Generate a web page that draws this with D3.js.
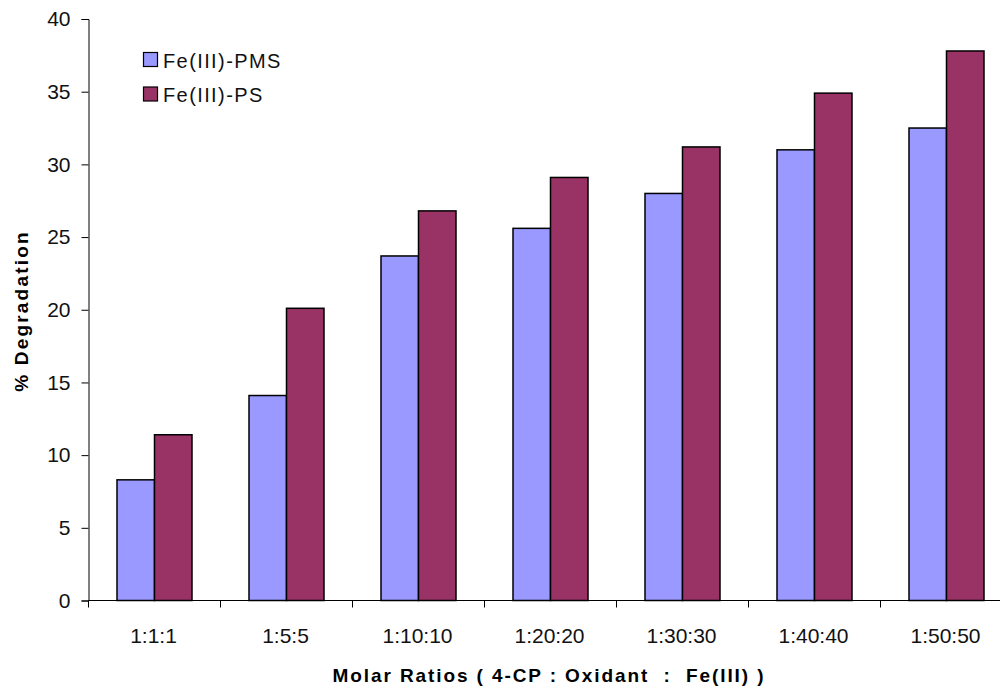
<!DOCTYPE html>
<html>
<head>
<meta charset="utf-8">
<script src="https://cdn.jsdelivr.net/npm/d3@7"></script>
<style>
  body { margin: 0; background: #fff; }
  svg { display: block; font-family: "Liberation Sans", Arial, sans-serif; }
</style>
</head>
<body>
<svg></svg>
<script>
const categories = ["1:1:1", "1:5:5", "1:10:10", "1:20:20", "1:30:30", "1:40:40", "1:50:50"];
const seriesNames = ["Fe(III)-PMS", "Fe(III)-PS"];
const pmsValues = [8.3, 14.1, 23.7, 25.6, 28.0, 31.0, 32.5];
const psValues = [11.4, 20.1, 26.8, 29.1, 31.2, 34.9, 37.8];
const yTicks = [0, 5, 10, 15, 20, 25, 30, 35, 40];

const colours = ["#9999ff", "#993366"];

const svg = d3.select("svg")
  .attr("width", 1000)
  .attr("height", 688);

// plot area runs past the right edge, the original is cropped there
const plotLeft = 88.5, plotTop = 19, plotBottom = 600.5, bandW = 132;

const x0 = d3.scaleBand()
  .domain(categories)
  .range([plotLeft, plotLeft + bandW * categories.length]);

const x1 = d3.scaleBand()
  .domain(seriesNames)
  .range([28.5, 103.5]);

const y = d3.scaleLinear()
  .domain([0, 40])
  .range([plotBottom, plotTop]);

const rows = categories.map((c, i) => ({ cat: c, vals: [pmsValues[i], psValues[i]] }));

// bars
const groups = svg.append("g")
  .selectAll("g")
  .data(rows)
  .join("g")
  .attr("transform", d => `translate(${x0(d.cat)},0)`);

groups.selectAll("rect")
  .data(d => d.vals.map((v, j) => ({ name: seriesNames[j], v, j })))
  .join("rect")
  .attr("x", d => x1(d.name))
  .attr("y", d => y(d.v))
  .attr("width", x1.bandwidth())
  .attr("height", d => y(0) - y(d.v))
  .attr("fill", d => colours[d.j])
  .attr("stroke", "#000")
  .attr("stroke-width", 1.5);

// y axis
const yAxis = svg.append("g")
  .attr("transform", `translate(${plotLeft},0)`)
  .call(d3.axisLeft(y).tickValues(yTicks).tickSize(7).tickPadding(11));
yAxis.select(".domain").attr("stroke", "#000");
yAxis.selectAll("text").attr("font-size", 21).attr("fill", "#111");

// x axis: ticks at category boundaries
const xAxis = svg.append("g")
  .attr("transform", `translate(0,${plotBottom})`);
xAxis.append("line")
  .attr("x1", plotLeft).attr("x2", 1000)
  .attr("stroke", "#000");
xAxis.selectAll("line.tick")
  .data(categories)
  .join("line")
  .attr("class", "tick")
  .attr("x1", d => x0(d)).attr("x2", d => x0(d))
  .attr("y1", 0).attr("y2", 7)
  .attr("stroke", "#000");
xAxis.selectAll("text")
  .data(categories)
  .join("text")
  .attr("x", d => x0(d) + bandW / 2 - 1)
  .attr("y", 42)
  .attr("text-anchor", "middle")
  .attr("font-size", 21)
  .attr("fill", "#111")
  .text(d => d);

// axis titles
svg.append("text")
  .attr("x", 549)
  .attr("y", 682)
  .attr("text-anchor", "middle")
  .attr("font-size", 19)
  .attr("font-weight", "bold")
  .attr("letter-spacing", 1.9)
  .style("white-space", "pre")
  .text("Molar Ratios ( 4-CP : Oxidant  :  Fe(III) )");

svg.append("text")
  .attr("transform", "translate(28,311) rotate(-90)")
  .attr("text-anchor", "middle")
  .attr("font-size", 19)
  .attr("font-weight", "bold")
  .attr("letter-spacing", 2.2)
  .text("% Degradation");

// legend
const legend = svg.append("g")
  .selectAll("g")
  .data(seriesNames)
  .join("g")
  .attr("transform", (d, i) => `translate(143.5,${52.5 + i * 34.5})`);
legend.append("rect")
  .attr("width", 14).attr("height", 14)
  .attr("fill", (d, i) => colours[i])
  .attr("stroke", "#000")
  .attr("stroke-width", 1.2);
legend.append("text")
  .attr("x", 19.5)
  .attr("y", 15)
  .attr("font-size", 20)
  .attr("letter-spacing", 1.4)
  .attr("fill", "#111")
  .text(d => d);
</script>
</body>
</html>
